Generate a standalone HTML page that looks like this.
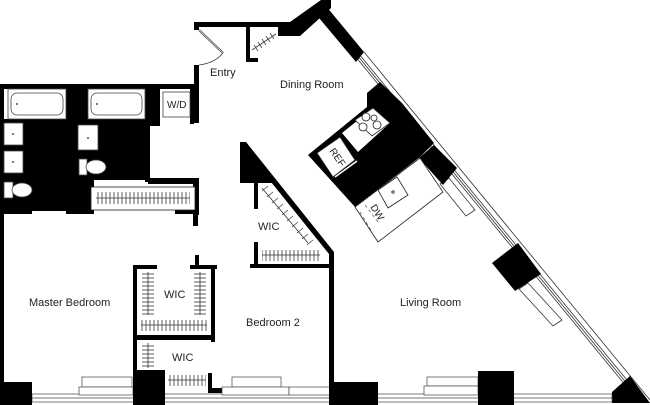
<!DOCTYPE html>
<html><head><meta charset="utf-8"><style>
html,body{margin:0;padding:0;background:#fff;}
svg{display:block;}
text{font-family:"Liberation Sans",Arial,sans-serif;font-size:11px;fill:#222;}
</style></head><body>
<svg width="650" height="405" viewBox="0 0 650 405" xmlns="http://www.w3.org/2000/svg">
<defs>
<pattern id="hv" width="4" height="10" patternUnits="userSpaceOnUse"><rect width="4" height="10" fill="#fff"/><line x1="2" y1="0" x2="2" y2="10" stroke="#333" stroke-width="0.8"/></pattern>
<pattern id="hh" width="10" height="4" patternUnits="userSpaceOnUse"><rect width="10" height="4" fill="#fff"/><line x1="0" y1="2" x2="10" y2="2" stroke="#333" stroke-width="0.8"/></pattern>
</defs>
<!-- window diagonal -->
<g fill="none" stroke="#333" stroke-width="0.8">
<line x1="364" y1="52" x2="650" y2="400"/>
<line x1="355" y1="56" x2="640" y2="403"/>
<line x1="359" y1="54" x2="645" y2="402"/>
<line x1="357" y1="55" x2="642" y2="402"/>
<polygon points="440,184 466,216 475,210 449,178" fill="#fff"/>
<polygon points="519,289 553,326 562,320 528,283" fill="#fff"/>
</g>
<g fill="#000">
<polygon points="194,22 290,22 321,0 331,0 331,8 300,36 278,36 278,27 194,27"/>
<rect x="194" y="22" width="5" height="8"/>
<rect x="194" y="65" width="5" height="58"/>
<rect x="246" y="27" width="4" height="35"/>
<rect x="246" y="58" width="12" height="4"/>
<polygon points="321,0 364,52 356,62 314,12"/>
<rect x="0" y="84" width="199" height="5"/>
<rect x="0" y="84" width="4" height="320"/>
<rect x="3" y="119" width="63" height="92"/>
<rect x="66" y="84" width="22" height="130"/>
<rect x="78" y="119" width="68" height="61"/>
<rect x="145" y="84" width="15" height="42"/>
<rect x="145" y="119" width="5" height="63"/>
<rect x="190" y="84" width="4" height="40"/>
<rect x="148" y="178" width="50" height="6"/>
<rect x="88" y="178" width="6" height="36"/>
<rect x="193" y="178" width="6" height="37"/>
<rect x="0" y="209" width="32" height="5"/>
<rect x="175" y="209" width="20" height="5"/>
<rect x="193" y="210" width="5" height="16"/>
<rect x="195" y="255" width="4" height="12"/>
<rect x="133" y="265" width="4" height="140"/>
<rect x="133" y="265" width="24" height="4"/>
<rect x="190" y="265" width="27" height="4"/>
<rect x="211" y="265" width="4" height="77"/>
<rect x="133" y="335" width="80" height="5"/>
<rect x="208" y="373" width="4" height="20"/>
<rect x="208" y="388" width="14" height="5"/>
<polygon points="240,142 246,142 274,183 240,183"/>
<polygon points="246,142 334,252 334,268 329,268 329,254 242,146"/>
<rect x="254" y="183" width="4" height="26"/>
<rect x="254" y="242" width="4" height="26"/>
<rect x="250" y="264" width="84" height="4"/>
<rect x="329" y="252" width="5" height="153"/>
<polygon points="630,376 650,403 612,403 612,392"/>
<polygon points="308,155 367,107 367,93 380,82 402,103 434,143 420,157 355,207"/>
<polygon points="419,158 434,145 457,168 443,185"/>
<polygon points="492,263 518,243 541,274 515,291"/>
</g>
<g fill="#fff" stroke="#222" stroke-width="0.8">
<polygon points="317,153 340,137 355,160 333,177"/>
<polygon points="342,133 373,108 390,123 358,152" stroke="none"/>
<polygon points="355,120 373,108 390,123 372,136"/>
<circle cx="366" cy="117" r="4"/><circle cx="377" cy="125" r="4"/><circle cx="363" cy="127" r="4"/><circle cx="374" cy="118" r="3"/>
<polygon points="355,207 378,242 443,192 420,158"/>
<polygon points="378,190 397,177 408,195 388,208"/>
<circle cx="393" cy="192" r="1.2"/>
</g>
<line x1="335" y1="177" x2="357" y2="161" stroke="#fff" stroke-width="1.5"/>
<text transform="translate(329,151) rotate(55)" style="font-size:10px">REF</text>
<text transform="translate(370,207) rotate(58)" style="font-size:10px">DW</text>
<path d="M360,212 L372,232 M365,205 L378,222" stroke="#333" stroke-width="0.6" stroke-dasharray="3,3" fill="none"/>
<g fill="#fff" stroke="#444" stroke-width="0.8">
<rect x="8" y="89" width="58" height="30"/>
<rect x="11" y="93" width="52" height="22" rx="6"/>
<rect x="88" y="89" width="57" height="30"/>
<rect x="91" y="93" width="51" height="22" rx="6"/>
<rect x="163" y="92" width="27" height="25"/>
<rect x="4" y="123" width="19" height="22"/>
<rect x="4" y="151" width="19" height="22"/>
<rect x="4" y="182" width="9" height="16"/>
<ellipse cx="22" cy="190" rx="10" ry="7"/>
<rect x="78" y="125" width="20" height="25"/>
<rect x="79" y="159" width="8" height="16"/>
<ellipse cx="96" cy="167" rx="10" ry="7"/>
<rect x="91" y="187" width="104" height="23" stroke="#222"/>
</g>
<g fill="#555"><circle cx="17" cy="104" r="1"/><circle cx="97" cy="104" r="1"/><circle cx="13" cy="134" r="1"/><circle cx="13" cy="162" r="1"/><circle cx="88" cy="138" r="1"/></g>
<rect x="96" y="192" width="94" height="12" fill="url(#hv)"/>
<line x1="96" y1="198" x2="190" y2="198" stroke="#333" stroke-width="0.8"/>
<text x="167" y="108" style="font-size:10px">W/D</text>
<line x1="199" y1="30" x2="223" y2="53" stroke="#333" stroke-width="2"/>
<line x1="199" y1="30" x2="223" y2="53" stroke="#fff" stroke-width="0.7"/>
<path d="M223,53 Q215,63 199,65" stroke="#333" fill="none" stroke-width="0.7"/>
<g stroke="#333" stroke-width="0.8">
<line x1="252" y1="50" x2="276" y2="34"/>
<line x1="262" y1="188" x2="308" y2="243"/>
</g>
<g stroke="#333" stroke-width="0.7">
<path d="M254,45 l4,6 M258,42 l4,6 M262,39 l4,6 M266,36 l4,6 M270,33 l4,6"/>
<path d="M268,186 l-6,5 M273,192 l-6,5 M278,198 l-6,5 M283,204 l-6,5 M288,210 l-6,5 M293,216 l-6,5 M298,222 l-6,5 M303,228 l-6,5 M308,234 l-6,5 M313,240 l-6,5"/>
</g>
<rect x="262" y="250" width="58" height="11" fill="url(#hv)"/>
<line x1="262" y1="255" x2="320" y2="255" stroke="#333" stroke-width="0.8"/>
<rect x="142" y="272" width="12" height="43" fill="url(#hh)"/>
<line x1="148" y1="272" x2="148" y2="315" stroke="#333" stroke-width="0.8"/>
<rect x="194" y="272" width="12" height="43" fill="url(#hh)"/>
<line x1="200" y1="272" x2="200" y2="315" stroke="#333" stroke-width="0.8"/>
<rect x="141" y="320" width="66" height="11" fill="url(#hv)"/>
<line x1="141" y1="325" x2="207" y2="325" stroke="#333" stroke-width="0.8"/>
<rect x="142" y="343" width="12" height="25" fill="url(#hh)"/>
<line x1="148" y1="343" x2="148" y2="368" stroke="#333" stroke-width="0.8"/>
<rect x="168" y="375" width="38" height="11" fill="url(#hv)"/>
<line x1="168" y1="380" x2="206" y2="380" stroke="#333" stroke-width="0.8"/>
<g fill="#fff" stroke="#444" stroke-width="0.7">
<rect x="32" y="394" width="580" height="8"/>
<line x1="32" y1="398" x2="612" y2="398"/>
<rect x="82" y="377" width="50" height="10"/>
<rect x="79" y="387" width="54" height="8"/>
<rect x="232" y="377" width="49" height="10"/>
<rect x="222" y="387" width="67" height="8"/>
<rect x="289" y="387" width="53" height="8"/>
<rect x="427" y="377" width="51" height="9"/>
<rect x="424" y="386" width="54" height="9"/>
</g>
<g fill="#000">
<rect x="0" y="382" width="32" height="23"/>
<rect x="133" y="370" width="32" height="35"/>
<rect x="329" y="382" width="49" height="23"/>
<rect x="478" y="371" width="36" height="34"/>
</g>
<text x="210" y="76">Entry</text>
<text x="280" y="88">Dining Room</text>
<text x="258" y="230">WIC</text>
<text x="29" y="306">Master Bedroom</text>
<text x="164" y="298">WIC</text>
<text x="246" y="326">Bedroom 2</text>
<text x="172" y="361">WIC</text>
<text x="400" y="306">Living Room</text>
</svg>
</body></html>
